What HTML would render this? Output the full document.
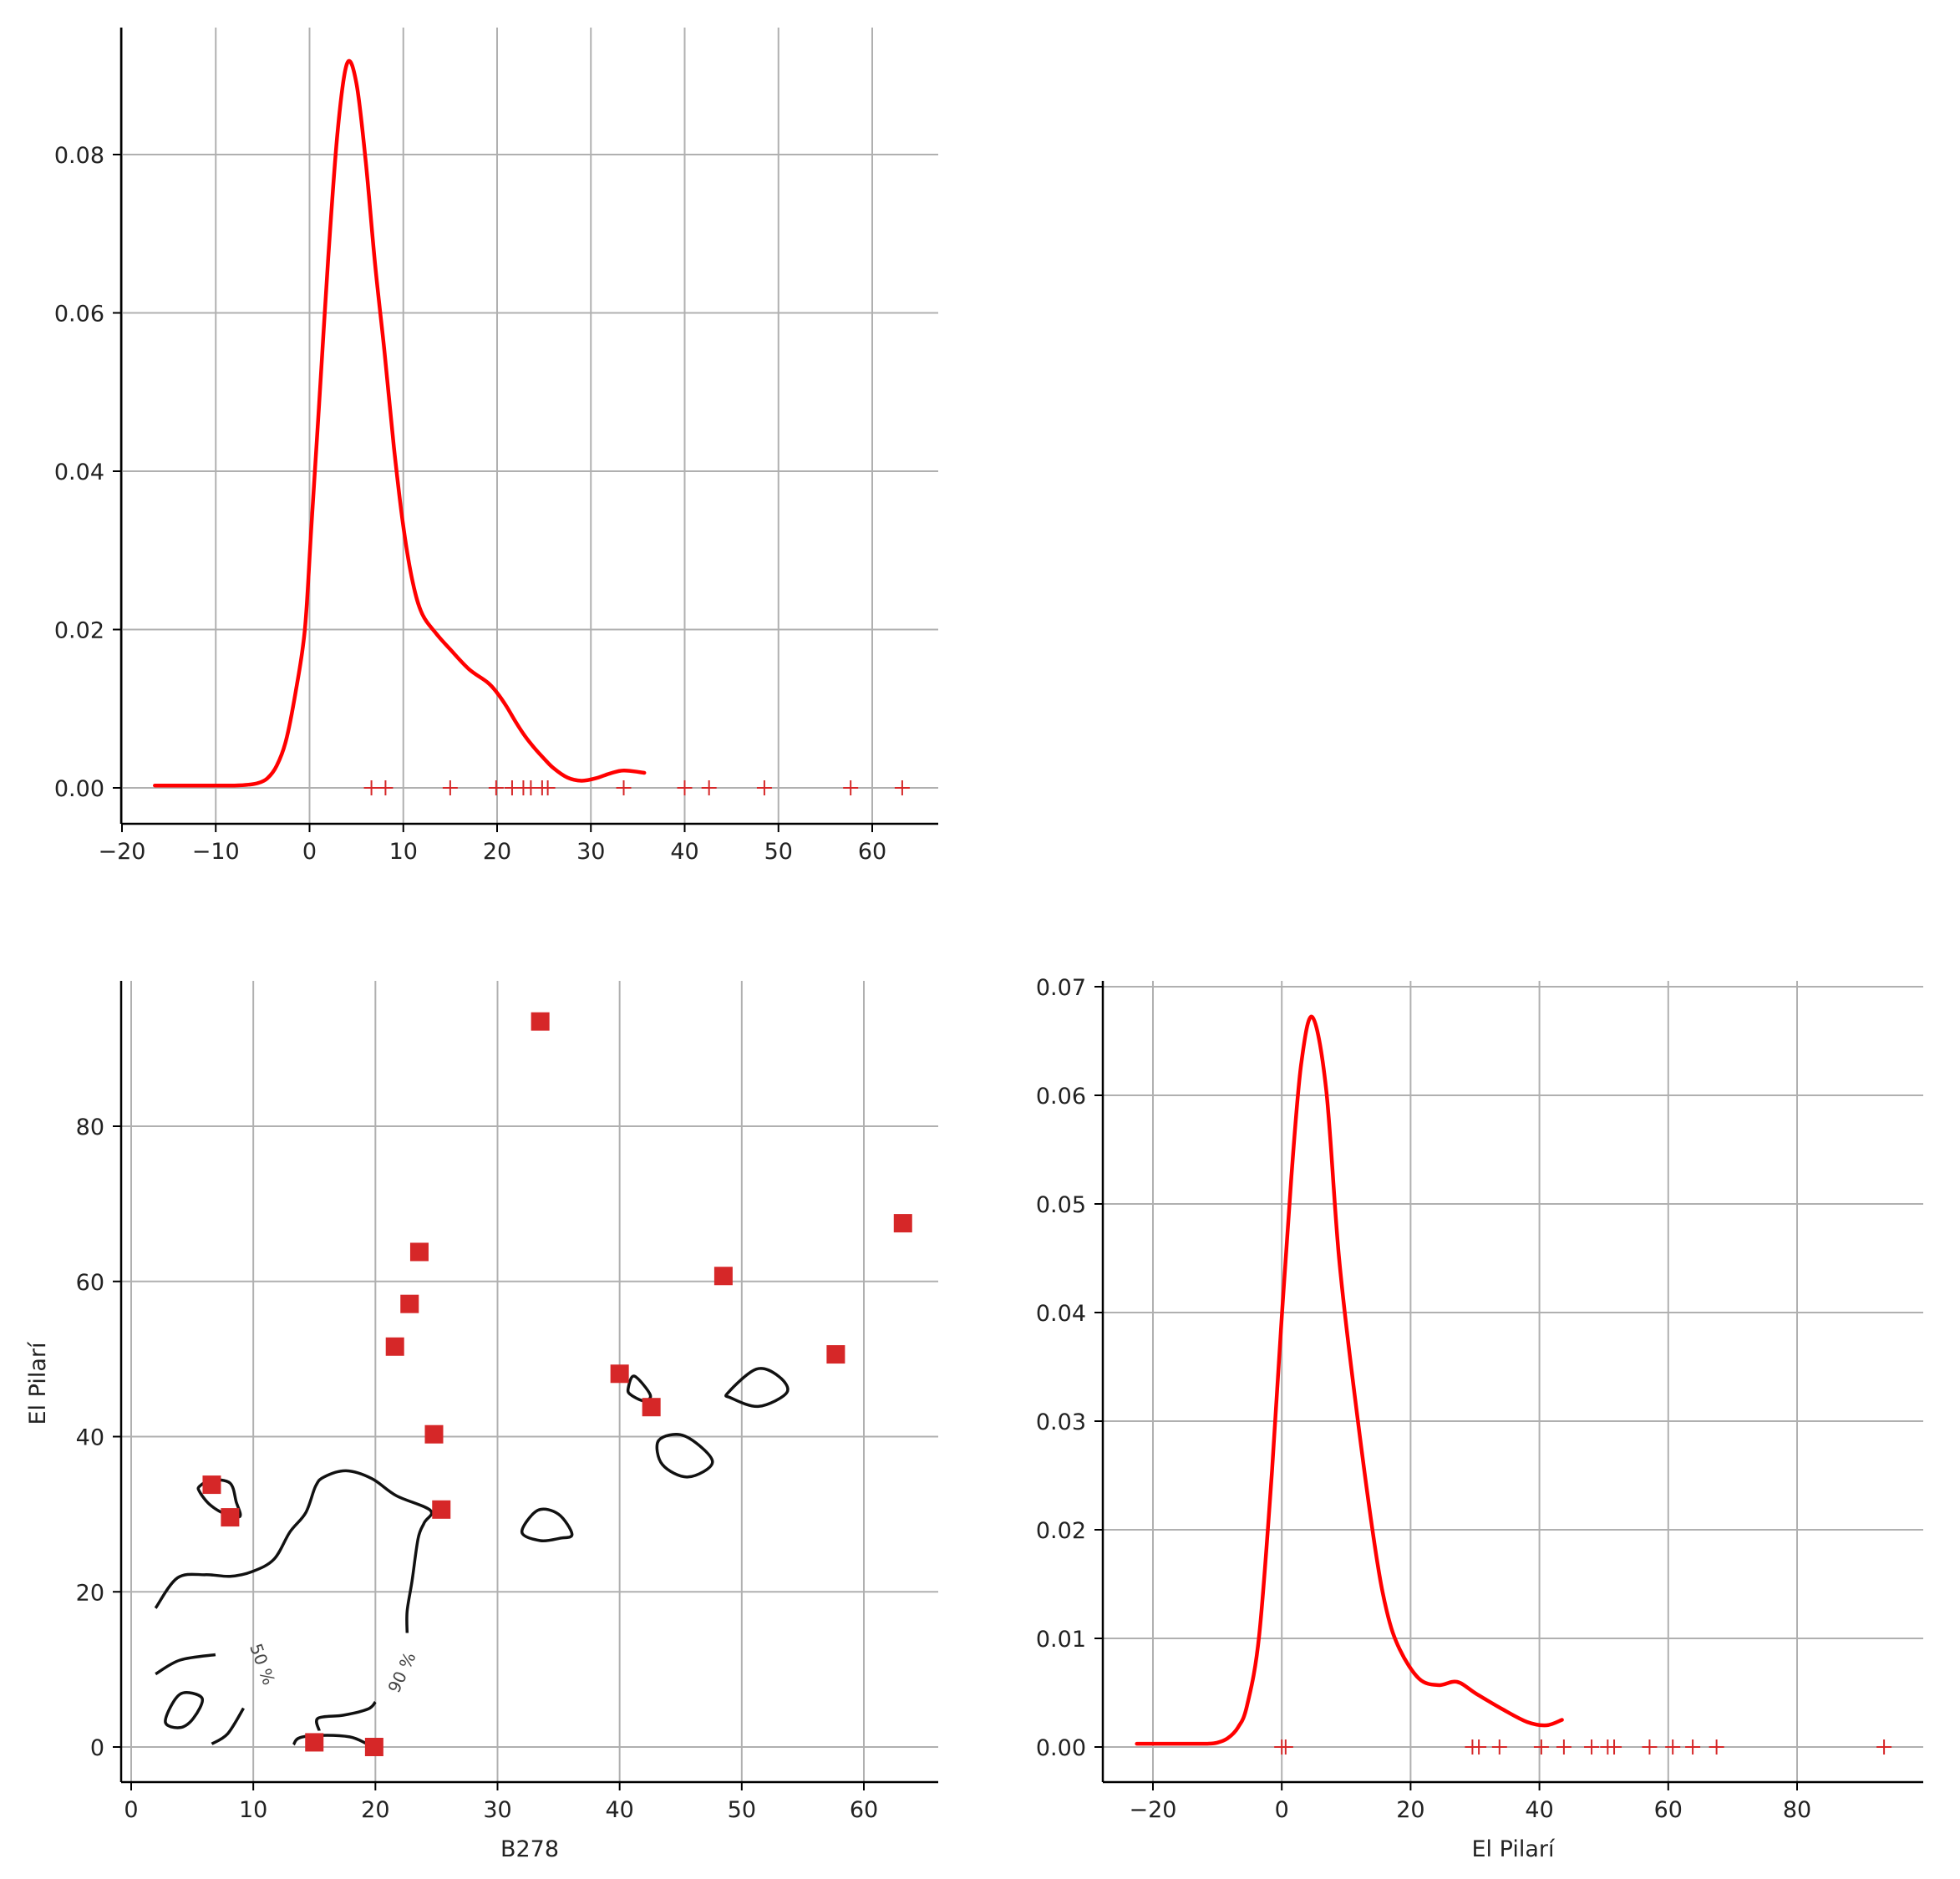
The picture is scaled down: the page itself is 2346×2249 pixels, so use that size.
<!DOCTYPE html>
<html><head><meta charset="utf-8"><style>
html,body{margin:0;padding:0;background:#fff;}
svg{display:block;font-family:"DejaVu Sans","Liberation Sans",sans-serif;}
</style></head><body>
<svg id="c" width="2346" height="2249" viewBox="0 0 2346 2249" xmlns="http://www.w3.org/2000/svg"></svg>
<script>
// ---- data ----
const b278Values = [6.6, 8.1, 15, 19.9, 21.6, 22.8, 23.6, 24.8, 25.4, 33.5, 40, 42.6, 48.5, 57.7, 63.2];
const pilariValues = [33.8, 29.6, 0.6, 0, 51.6, 57.1, 63.8, 40.3, 30.6, 93.5, 48.1, 43.8, 60.7, 50.6, 67.5];
const kdeTopX = [-16.5,-13,-10,-8,-6.5,-5.5,-4.5,-3.5,-2.5,-1.5,-0.5,0.2,1,2,3,4,5,6,7,8,9,10,11,12,13.5,15,17,19,20,21,22,23,24,25,26,27.5,29,30.5,32,33.5,35.7];
const kdeTopY = [0.0003,0.0003,0.0003,0.0003,0.0004,0.0006,0.0012,0.0028,0.006,0.012,0.02,0.033,0.048,0.067,0.083,0.0915,0.089,0.079,0.066,0.055,0.043,0.033,0.026,0.022,0.0195,0.0175,0.015,0.0133,0.012,0.0103,0.0083,0.0065,0.005,0.0037,0.0025,0.0013,0.0009,0.0012,0.0018,0.0022,0.0019];
const kdeRightX = [-22.5,-18,-14,-11.5,-10,-8.4,-6.8,-5.4,-3.5,-1.5,0,1.5,3,4.75,6.9,8.9,11.4,14.4,16.3,18.3,21.3,24.3,27.2,30.2,34.2,38.1,41.1,43.5];
const kdeRightY = [0.0003,0.0003,0.0003,0.0003,0.0004,0.0008,0.0018,0.0038,0.0103,0.0255,0.0396,0.0526,0.0628,0.0672,0.0605,0.045,0.032,0.0187,0.0125,0.009,0.0063,0.0057,0.006,0.0049,0.0035,0.0023,0.002,0.0025];
const topXTicks = [-20,-10,0,10,20,30,40,50,60];
const topYTicks = [0,0.02,0.04,0.06,0.08];
const scatXTicks = [0,10,20,30,40,50,60];
const scatYTicks = [0,20,40,60,80];
const rightXTicks = [-20,0,20,40,60,80];
const rightYTicks = [0,0.01,0.02,0.03,0.04,0.05,0.06,0.07];
const contours = [
 {closed:false, pts:[[2.0,17.9],[3.8,21.8],[6.1,22.2],[8.1,22.0],[9.9,22.6],[11.7,24.2],[13.0,27.7],[14.3,30.2],[15.1,33.6],[15.8,34.8],[17.6,35.6],[19.7,34.6],[21.7,32.4],[24.5,30.5],[24.0,28.9],[23.5,26.9],[23.0,21.4],[22.6,17.5],[22.6,14.7]]},
 {closed:true, pts:[[5.6,33.6],[6.6,34.4],[8.1,34.0],[8.6,31.6],[8.9,29.7],[7.6,30.1],[6.4,31.3],[5.6,32.9]]},
 {closed:false, pts:[[2.0,9.4],[4.0,11.2],[6.9,11.9]]},
 {closed:true, pts:[[2.8,3.3],[4.0,6.8],[5.8,6.3],[5.1,3.7],[4.0,2.5]]},
 {closed:false, pts:[[6.6,0.4],[7.9,1.7],[9.2,5.0]]},
 {closed:false, pts:[[13.3,0.3],[13.8,1.2],[15.6,1.5],[17.9,1.3],[19.2,0.5]]},
 {closed:false, pts:[[15.4,2.1],[15.3,3.7],[17.4,4.1],[19.4,4.9],[20.0,5.8]]},
 {closed:true, pts:[[32.0,27.7],[33.3,30.5],[35.0,30.0],[36.1,27.4],[35.1,26.9],[33.5,26.6]]},
 {closed:true, pts:[[43.2,39.5],[45.3,40.1],[47.6,36.8],[45.6,34.8],[43.5,36.4]]},
 {closed:true, pts:[[48.9,45.7],[51.2,48.7],[53.0,47.8],[53.7,45.7],[51.4,43.9],[49.1,45.0]]},
 {closed:true, pts:[[41.2,47.8],[42.5,45.4],[42.0,44.6],[40.9,45.4],[40.7,46.2]]}
];

// ---- helpers ----
const svg = document.getElementById('c');
const NS = 'http://www.w3.org/2000/svg';
function mk(tag, attrs, parent){const e=document.createElementNS(NS,tag);for(const k in attrs)e.setAttribute(k,attrs[k]);(parent||svg).appendChild(e);return e;}
function lin(d0,d1,r0,r1){return v=>r0+(v-d0)*(r1-r0)/(d1-d0);}
function smoothPath(P, closed){
  const n=P.length; if(n<3) return P.map((p,i)=>(i?'L':'M')+p[0].toFixed(1)+','+p[1].toFixed(1)).join(' ')+(closed?' Z':'');
  const get=i=>closed?P[(i+n)%n]:P[Math.max(0,Math.min(n-1,i))];
  let d='M'+P[0][0].toFixed(1)+','+P[0][1].toFixed(1);
  const segs=closed?n:n-1;
  for(let i=0;i<segs;i++){
    const p0=get(i-1),p1=get(i),p2=get(i+1),p3=get(i+2);
    const c1=[p1[0]+(p2[0]-p0[0])/6,p1[1]+(p2[1]-p0[1])/6];
    const c2=[p2[0]-(p3[0]-p1[0])/6,p2[1]-(p3[1]-p1[1])/6];
    d+=` C${c1[0].toFixed(1)},${c1[1].toFixed(1)} ${c2[0].toFixed(1)},${c2[1].toFixed(1)} ${p2[0].toFixed(1)},${p2[1].toFixed(1)}`;
  }
  return d+(closed?' Z':'');
}

function axes(name, box, sx, sy, xt, yt, xfmt, yfmt){
  const g = mk('g',{});
  
  
  xt.forEach(t=>{
    const x=sx(t);
    const l=mk('line',{x1:x,x2:x,y1:box.t,y2:box.b,stroke:'#b0b0b0','stroke-width':2},g);
    
    
    mk('line',{x1:x,x2:x,y1:box.b,y2:box.b+10,stroke:'#000','stroke-width':2},g);
    const tx=mk('text',{x:x,y:box.b+42,'text-anchor':'middle','font-size':27,fill:'#222'},g);
    tx.textContent=xfmt(t);
    
    
  });
  yt.forEach(t=>{
    const y=sy(t);
    const l=mk('line',{x1:box.l,x2:box.r,y1:y,y2:y,stroke:'#b0b0b0','stroke-width':2},g);
    
    
    mk('line',{x1:box.l-10,x2:box.l,y1:y,y2:y,stroke:'#000','stroke-width':2},g);
    const tx=mk('text',{x:box.l-20,y:y+10,'text-anchor':'end','font-size':27,fill:'#222'},g);
    tx.textContent=yfmt(t);
    
    
  });
  const ax=mk('line',{x1:box.l,x2:box.l,y1:box.t,y2:box.b,stroke:'#000','stroke-width':2.5},g);
  
  
  const ay=mk('line',{x1:box.l,x2:box.r,y1:box.b,y2:box.b,stroke:'#000','stroke-width':2.5},g);
  
  
  return g;
}
const fmtInt = t => (t<0?'\u2212'+Math.abs(t):String(t));
function curve(g, xs, ys, sx, sy, name){
  const pts = xs.map((x,i)=>[sx(x),sy(ys[i])]);
  const p=mk('path',{d:smoothPath(pts,false),fill:'none',stroke:'#ff0000','stroke-width':4.5,'stroke-linejoin':'round','stroke-linecap':'round'},g);
  
  
}
function rug(g, vals, sx, y, name){
  vals.forEach(v=>{
    const x=sx(v);
    const p=mk('path',{d:`M${x-9},${y} L${x+9},${y} M${x},${y-9} L${x},${y+9}`,stroke:'#d62728','stroke-width':2},g);
    
    
  });
}

// ---- top-left KDE (B278) ----
{
  const box={l:145,r:1123,t:33,b:986};
  const sx=lin(-20,60,146,1044), sy=lin(0,0.08,943,185);
  const g=axes('b278-kde-panel',box,sx,sy,topXTicks,topYTicks,fmtInt,t=>t.toFixed(2));
  curve(g,kdeTopX,kdeTopY,sx,sy,'b278-kde-curve');
  rug(g,b278Values,sx,sy(0),'b278-rug-mark');
}

// ---- bottom-left scatter ----
{
  const box={l:145,r:1123,t:1174,b:2133};
  const sx=lin(0,60,157,1034), sy=lin(0,80,2091,1348);
  const g=axes('scatter-panel',box,sx,sy,scatXTicks,scatYTicks,fmtInt,fmtInt);
  contours.forEach(c=>{
    const pts=c.pts.map(p=>[sx(p[0]),sy(p[1])]);
    const p=mk('path',{d:smoothPath(pts,c.closed),fill:'none',stroke:'#111','stroke-width':3.5,'stroke-linejoin':'round'},g);
    
    
  });
  const l1=mk('text',{x:sx(10.3),y:sy(10.4),'font-size':20,fill:'#444','text-anchor':'middle',transform:`rotate(70 ${sx(10.3)} ${sy(10.4)})`},g);
  l1.textContent='50 %';
  
  
  const l2=mk('text',{x:sx(22.6),y:sy(9.3),'font-size':20,fill:'#444','text-anchor':'middle',transform:`rotate(-65 ${sx(22.6)} ${sy(9.3)})`},g);
  l2.textContent='90 %';
  
  
  b278Values.forEach((v,i)=>{
    const r=mk('rect',{x:sx(v)-11,y:sy(pilariValues[i])-11,width:22,height:22,fill:'#d62728'},g);
    
    
  });
  const xl=mk('text',{x:634,y:2222,'text-anchor':'middle','font-size':27,fill:'#222'},g);
  xl.textContent='B278';
  
  
  const yl=mk('text',{x:54,y:1656,'text-anchor':'middle','font-size':27,fill:'#222',transform:'rotate(-90 54 1656)'},g);
  yl.textContent='El Pilarí';
  
  
}

// ---- bottom-right KDE (El Pilarí) ----
{
  const box={l:1320,r:2302,t:1174,b:2133};
  const sx=lin(-20,80,1380,2151), sy=lin(0,0.07,2091,1181);
  const g=axes('pilari-kde-panel',box,sx,sy,rightXTicks,rightYTicks,fmtInt,t=>t.toFixed(2));
  curve(g,kdeRightX,kdeRightY,sx,sy,'pilari-kde-curve');
  rug(g,pilariValues,sx,sy(0),'pilari-rug-mark');
  const xl=mk('text',{x:1811,y:2222,'text-anchor':'middle','font-size':27,fill:'#222'},g);
  xl.textContent='El Pilarí';
  
  
}
</script>
</body></html>
